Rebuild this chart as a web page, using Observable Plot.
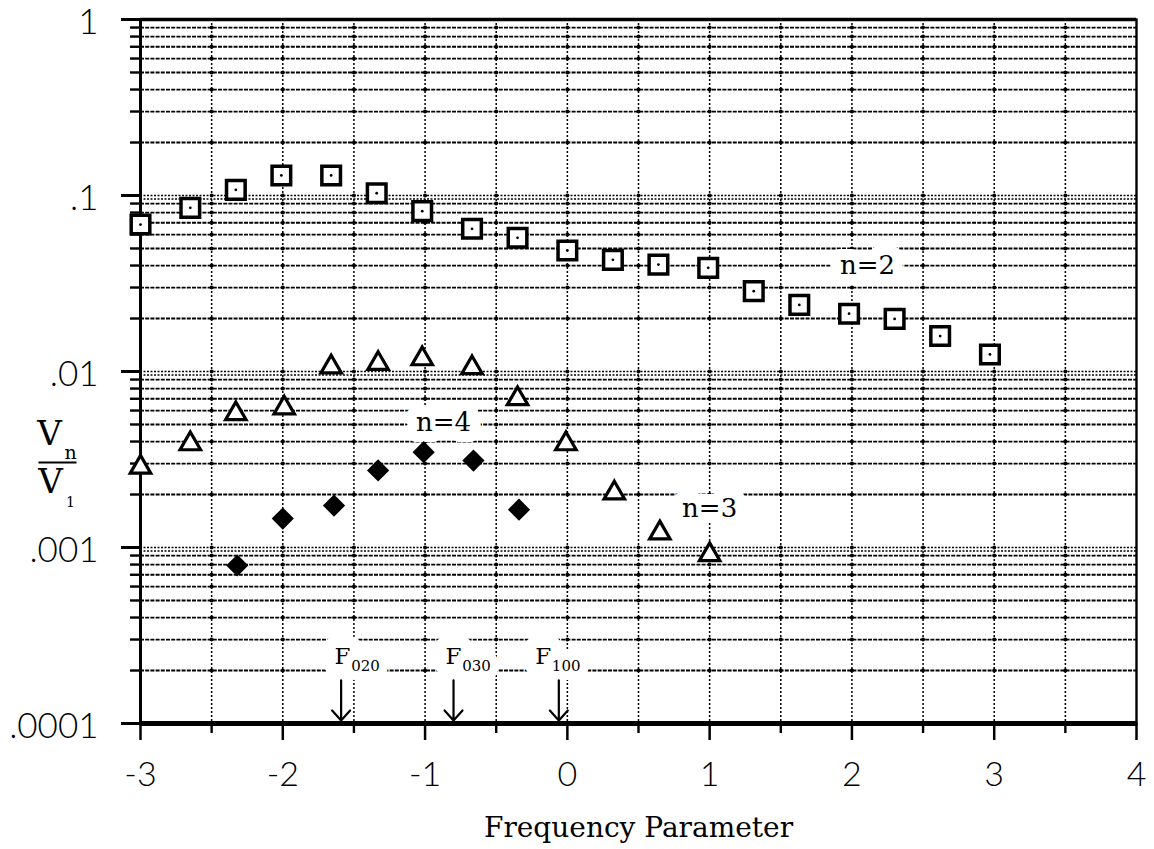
<!DOCTYPE html>
<html>
<head>
<meta charset="utf-8">
<script src="https://cdn.jsdelivr.net/npm/d3@7"></script>
<script src="https://cdn.jsdelivr.net/npm/@observablehq/plot@0.6"></script>
<style>
  html, body { margin: 0; padding: 0; background: #fff; }
  #chart svg { display: block; background: #fff; }
</style>
</head>
<body>
<div id="chart"></div>
<script>
// ---- axis ticks and labels ----
const xTicks = [-3, -2, -1, 0, 1, 2, 3, 4];
const xTickLabels = ["-3", "-2", "-1", "0", "1", "2", "3", "4"];
const xHalfTicks = [-2.5, -1.5, -0.5, 0.5, 1.5, 2.5, 3.5];
const yTicks = [1, 0.1, 0.01, 0.001, 0.0001];
const yTickLabels = ["1", ".1", ".01", ".001", ".0001"];
const xTitle = "Frequency Parameter";

// ---- series n=2 (open squares) ----
const n2X = [-3.0, -2.65, -2.33, -2.01, -1.66, -1.34, -1.02, -0.67, -0.35, 0.0, 0.32, 0.64, 0.99, 1.31, 1.63, 1.98, 2.30, 2.62, 2.97];
const n2Y = [0.0684, 0.0851, 0.1077, 0.130, 0.130, 0.103, 0.0815, 0.0647, 0.0575, 0.0487, 0.0431, 0.0405, 0.0388, 0.0286, 0.0239, 0.0213, 0.0199, 0.0159, 0.0125];

// ---- series n=3 (open triangles) ----
const n3X = [-3.0, -2.65, -2.33, -1.99, -1.66, -1.33, -1.02, -0.67, -0.35, -0.01, 0.33, 0.65, 1.0];
const n3Y = [0.00286, 0.00388, 0.00575, 0.0062, 0.0106, 0.0111, 0.0118, 0.0105, 0.0070, 0.00388, 0.00204, 0.00121, 0.00091];

// ---- series n=4 (filled diamonds) ----
const n4X = [-2.32, -2.0, -1.64, -1.33, -1.01, -0.66, -0.34];
const n4Y = [0.00079, 0.00146, 0.00173, 0.00274, 0.00348, 0.00312, 0.00164];

// ---- series labels ----
const seriesNames = ["n=2", "n=3", "n=4"];
const seriesLabelX = [2.11, 1.0, -0.87];
const seriesLabelY = [0.040, 0.00167, 0.00513];

// ---- frequency markers ----
const fMain = ["F", "F", "F"];
const fSubs = ["020", "030", "100"];
const fLabelX = [-1.58, -0.80, -0.17];
const fArrowX = [-1.59, -0.80, -0.06];
const fLabelLevel = 0.00024;
const fArrowTop = 0.000176;
const fArrowBottom = 0.000104;

// ---- y-axis title pieces ----
const yTitleMain = ["V", "V"];
const yTitleSub = ["n", "1"];

// build tables
const n2 = n2X.map((x, i) => ({x, y: n2Y[i]}));
const n3 = n3X.map((x, i) => ({x, y: n3Y[i]}));
const n4 = n4X.map((x, i) => ({x, y: n4Y[i]}));
const seriesLabels = seriesNames.map((t, i) => ({t, x: seriesLabelX[i], y: seriesLabelY[i]}));
const fLabels = fMain.map((t, i) => ({t, sub: fSubs[i], x: fLabelX[i], ax: fArrowX[i]}));
const yLabels = yTicks.map((v, i) => ({v, t: yTickLabels[i]}));

const xLabelMap = new Map(xTicks.map((d, i) => [d, xTickLabels[i]]));

// minor log grid values (2..9 x 10^k) and decade lines
const minorVals = [];
for (let k = -4; k <= -1; k++) for (let m = 2; m <= 9; m++) minorVals.push(+(m * Math.pow(10, k)).toPrecision(3));
const decadeVals = [0.001, 0.01, 0.1];
const vGrid = xHalfTicks.concat(xTicks.slice(1, -1)).sort((a, b) => a - b);
// grid intersection dots
const crossings = [];
for (const gx of vGrid) for (const gy of minorVals.concat(decadeVals)) crossings.push({x: gx, y: gy});

// horizontal bar symbol for the fraction line of the y title
const barSymbol = {draw(context) { context.moveTo(-19, 0); context.lineTo(19, 0); }};

const tickFont = "Lato, 'Open Sans', sans-serif";
const serif = "'DejaVu Serif', 'Liberation Serif', serif";

const chart = Plot.plot({
  width: 1154,
  height: 849,
  marginLeft: 140,
  marginRight: 18,
  marginTop: 19,
  marginBottom: 126,
  style: {background: "#fff", color: "#000"},
  x: {domain: [-3, 4]},
  y: {type: "log", domain: [0.0001, 1]},
  marks: [
    // grid
    Plot.ruleY(minorVals, {stroke: "#000", strokeWidth: 1.8, strokeDasharray: "4,1.2"}),
    Plot.ruleY(decadeVals, {stroke: "#000", strokeWidth: 1.6, strokeDasharray: "2,1.5"}),
    Plot.ruleY(decadeVals, {stroke: "#000", strokeWidth: 1.6, strokeDasharray: "2,1.5", dy: 3.5}),
    Plot.ruleX(vGrid, {stroke: "#000", strokeWidth: 1.5, strokeDasharray: "2,2"}),
    Plot.dot(crossings, {x: "x", y: "y", r: 2, fill: "#000"}),

    // series labels with white background halo
    Plot.text(seriesLabels, {x: "x", y: "y", text: "t", fontFamily: serif, fontSize: 26, fill: "#000",
      stroke: "#fff", strokeWidth: 22, strokeLinejoin: "round"}),

    // F markers
    Plot.text(fLabels, {x: "x", y: () => fLabelLevel, text: "t", fontFamily: serif, fontSize: 23, fill: "#000",
      stroke: "#fff", strokeWidth: 24}),
    Plot.text(fLabels, {x: "x", y: () => fLabelLevel, text: "sub", dx: 23, dy: 10, fontFamily: serif, fontSize: 15, fill: "#000",
      stroke: "#fff", strokeWidth: 18}),
    Plot.arrow(fLabels, {x: "ax", y1: () => fArrowTop, y2: () => fArrowBottom, stroke: "#000", strokeWidth: 2.2,
      headLength: 16, headAngle: 84}),

    // axes: ticks
    Plot.axisY(yTicks, {anchor: "left", tickSize: 19, tickPadding: 0, strokeWidth: 3,
      tickFormat: () => "", label: null}),
    Plot.axisY(minorVals, {anchor: "left", tickSize: 10, tickPadding: 0, strokeWidth: 2.4,
      tickFormat: () => "", label: null}),
    Plot.axisX(xTicks, {anchor: "bottom", tickSize: 17, tickPadding: 21, strokeWidth: 2.5,
      tickFormat: d => xLabelMap.get(d), fontSize: 34, fontFamily: tickFont, fontWeight: 300, label: null}),
    Plot.axisX(xHalfTicks, {anchor: "bottom", tickSize: 10, tickPadding: 0, strokeWidth: 2.4,
      tickFormat: () => "", label: null}),
    // y tick labels
    Plot.text(yLabels, {y: "v", text: "t", frameAnchor: "left", textAnchor: "end", lineAnchor: "middle",
      dx: -42, dy: 3, fontSize: 35, fontFamily: tickFont, fontWeight: 300, fill: "#000"}),

    // frame
    Plot.frame({stroke: "#000", strokeWidth: 2.4}),
    Plot.ruleY([1], {stroke: "#000", strokeWidth: 3.5}),
    Plot.ruleY([0.0001], {stroke: "#000", strokeWidth: 5}),
    Plot.ruleX([-3], {stroke: "#000", strokeWidth: 3}),

    // titles
    Plot.text([xTitle], {frameAnchor: "bottom", textAnchor: "middle", lineAnchor: "middle", dy: 105,
      fontFamily: serif, fontSize: 28, fill: "#000"}),
    Plot.text([yTitleMain[0]], {frameAnchor: "left", textAnchor: "middle", lineAnchor: "middle", dx: -91, dy: 63,
      fontFamily: serif, fontSize: 34, fill: "#000"}),
    Plot.text([yTitleSub[0]], {frameAnchor: "left", textAnchor: "middle", lineAnchor: "middle", dx: -70, dy: 81,
      fontFamily: serif, fontSize: 19, fill: "#000"}),
    Plot.dot([yTitleMain[0]], {frameAnchor: "left", dx: -83, dy: 91, symbol: barSymbol, stroke: "#000", strokeWidth: 1.8}),
    Plot.text([yTitleMain[1]], {frameAnchor: "left", textAnchor: "middle", lineAnchor: "middle", dx: -90, dy: 111,
      fontFamily: serif, fontSize: 34, fill: "#000"}),
    Plot.text([yTitleSub[1]], {frameAnchor: "left", textAnchor: "middle", lineAnchor: "middle", dx: -70, dy: 131,
      fontFamily: serif, fontSize: 14, fill: "#000"}),

    // data
    Plot.dot(n2, {x: "x", y: "y", symbol: "square", r: 10.5, stroke: "#000", strokeWidth: 3.5, fill: "#fff"}),
    Plot.dot(n2, {x: "x", y: "y", r: 1.4, fill: "#000"}),
    Plot.dot(n3, {x: "x", y: "y", symbol: "triangle", r: 7.6, stroke: "#000", strokeWidth: 3.2, fill: "#fff"}),
    Plot.dot(n4, {x: "x", y: "y", symbol: "diamond2", r: 10, fill: "#000", stroke: "none"})
  ]
});

document.getElementById("chart").append(chart);
</script>
</body>
</html>
